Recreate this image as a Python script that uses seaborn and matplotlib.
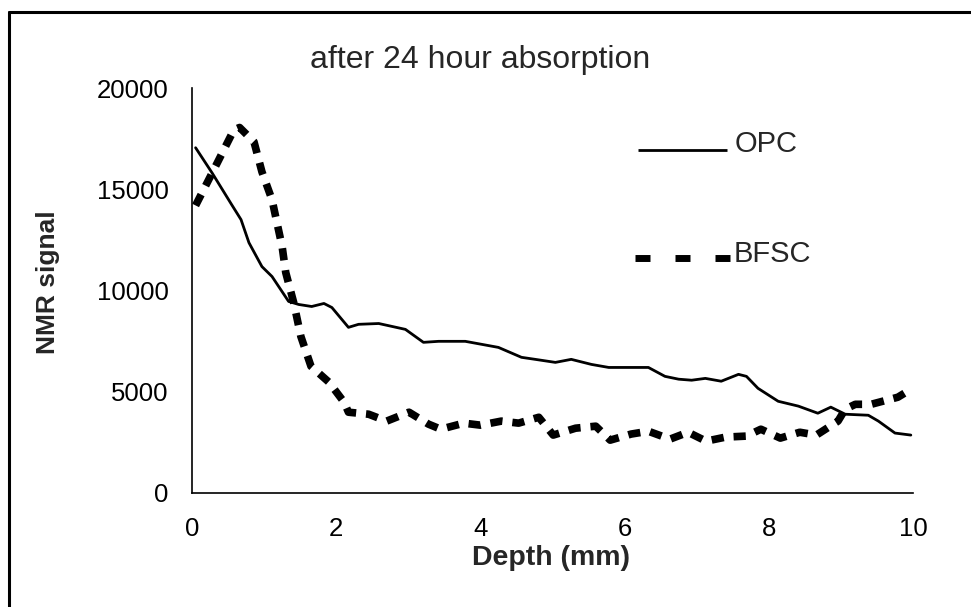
import matplotlib
matplotlib.use("Agg")
import matplotlib.pyplot as plt
from matplotlib.lines import Line2D
import seaborn as sns

# ---- data ----
opc_depth = [0.05, 0.28, 0.55, 0.68, 0.79, 0.97, 1.11, 1.34, 1.48, 1.66, 1.83, 1.94,
             2.17, 2.31, 2.59, 2.96, 3.21, 3.42, 3.79, 4.25, 4.57, 4.76, 5.04, 5.26,
             5.54, 5.78, 6.33, 6.56, 6.75, 6.93, 7.12, 7.34, 7.58, 7.69, 7.85, 8.13,
             8.41, 8.68, 8.86, 9.06, 9.38, 9.52, 9.75, 9.97]
opc_signal = [17050, 15800, 14240, 13500, 12360, 11180, 10690, 9460, 9310, 9210, 9360, 9160,
              8180, 8330, 8370, 8080, 7440, 7490, 7490, 7190, 6700, 6600, 6450, 6600,
              6350, 6200, 6200, 5760, 5620, 5570, 5660, 5520, 5860, 5760, 5170, 4530,
              4290, 3940, 4240, 3890, 3840, 3550, 2960, 2860]

bfsc_depth = [0.05, 0.35, 0.58, 0.66, 0.86, 0.97, 1.11, 1.16, 1.25, 1.30, 1.41, 1.51,
              1.65, 1.90, 2.11, 2.17, 2.45, 2.70, 3.01, 3.28, 3.45, 3.77, 4.00, 4.29,
              4.53, 4.81, 5.01, 5.32, 5.60, 5.80, 6.09, 6.33, 6.63, 6.88, 7.13, 7.40,
              7.69, 7.89, 8.16, 8.43, 8.66, 8.96, 9.06, 9.20, 9.42, 9.79, 9.97]
bfsc_signal = [14200, 16300, 17930, 18050, 17340, 15860, 14480, 13650, 12170, 10890, 9410, 7730,
               6260, 5470, 4480, 3990, 3890, 3550, 3990, 3400, 3150, 3450, 3350, 3550,
               3450, 3740, 2860, 3200, 3300, 2610, 2910, 3050, 2660, 3000, 2560, 2760,
               2810, 3150, 2710, 3000, 2860, 3550, 4140, 4380, 4380, 4730, 5120]

series_names = ["OPC", "BFSC"]
title_text = "after 24 hour absorption"
x_label = "Depth (mm)"
y_label = "NMR signal"
x_ticks = [0, 2, 4, 6, 8, 10]
y_ticks = [0, 5000, 10000, 15000, 20000]

# ---- style ----
sns.set_style("white")
plt.rcParams["font.family"] = ["Liberation Sans", "DejaVu Sans"]

W, H = 971, 607
fig = plt.figure(figsize=(W / 100, H / 100), dpi=100)
ax = fig.add_axes([192 / W, 1 - 493 / H, (913 - 192) / W, (493 - 88) / H])

OPC_LW = 2.0
BFSC_LW = 5.5
sns.lineplot(x=opc_depth, y=opc_signal, ax=ax, color="black", lw=OPC_LW,
             legend=False, sort=True)
sns.lineplot(x=bfsc_depth, y=bfsc_signal, ax=ax, color="black", lw=BFSC_LW,
             linestyle=(0, (1.6, 1.3)), legend=False, sort=True)

ax.set_xlim(0, 10)
ax.set_ylim(0, 20000)
ax.set_xticks(x_ticks)
ax.set_yticks(y_ticks)
ax.set_xticklabels([str(t) for t in x_ticks])
ax.set_yticklabels([str(t) for t in y_ticks])

for s in ["top", "right"]:
    ax.spines[s].set_visible(False)
for s in ["left", "bottom"]:
    ax.spines[s].set_color("black")
    ax.spines[s].set_linewidth(1.2)

ax.tick_params(axis="x", direction="out", length=6, width=1, colors="black",
               labelsize=18.5, pad=11)
ax.tick_params(axis="y", direction="out", length=6, width=1, colors="black",
               labelsize=18.5, pad=11)

ax.set_xlabel(x_label, fontsize=20.5, fontweight="bold")
ax.set_ylabel(y_label, fontsize=19, fontweight="bold")
ax.xaxis.set_label_coords((551 - 192) / 721, -0.128)
ax.yaxis.set_label_coords(-0.183, 0.52)

fig.text(310 / W, 1 - 68 / H, title_text, fontsize=23, ha="left", va="baseline")

# legend samples and labels (drawn in figure pixels)
def fx(px):
    return px / W

def fy(py):
    return 1 - py / H

fig.add_artist(Line2D([fx(638), fx(727)], [fy(150), fy(150)], color="black",
                      lw=OPC_LW, solid_capstyle="butt", transform=fig.transFigure))
fig.text(fx(735), fy(152), series_names[0], fontsize=21, ha="left", va="baseline")
fig.add_artist(Line2D([fx(635), fx(730)], [fy(258), fy(258)], color="black",
                      lw=5.0, linestyle=(0, (2.16, 3.6)), dash_capstyle="butt",
                      transform=fig.transFigure))
fig.text(fx(734), fy(262), series_names[1], fontsize=21, ha="left", va="baseline")

# outer chart border (top and left edges visible in the reference)
fig.add_artist(Line2D([fx(9), fx(9)], [0, fy(11.5)], color="black", lw=2.2,
                      transform=fig.transFigure))
fig.add_artist(Line2D([fx(9), 1], [fy(11.5), fy(11.5)], color="black", lw=2.2,
                      transform=fig.transFigure))

fig.savefig("out.png", dpi=100)
